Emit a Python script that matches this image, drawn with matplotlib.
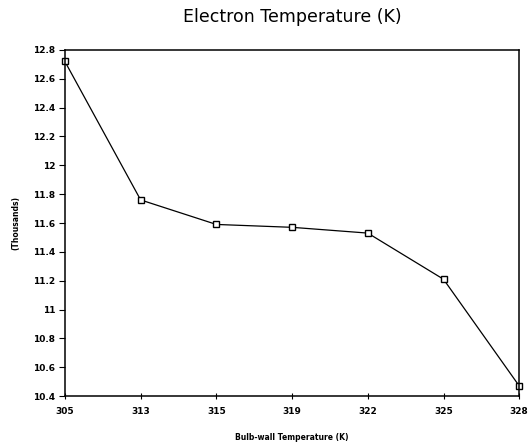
import matplotlib
matplotlib.use("Agg")
import matplotlib.pyplot as plt

categories = ["305", "313", "315", "319", "322", "325", "328"]
values = [12.72, 11.76, 11.59, 11.57, 11.53, 11.21, 10.47]
yticks = [10.4, 10.6, 10.8, 11.0, 11.2, 11.4, 11.6, 11.8, 12.0, 12.2, 12.4, 12.6, 12.8]
ytick_labels = ["10.4", "10.6", "10.8", "11", "11.2", "11.4", "11.6", "11.8", "12", "12.2", "12.4", "12.6", "12.8"]

fig = plt.figure(figsize=(5.32, 4.46), dpi=100)
ax = fig.add_axes([0.122, 0.112, 0.854, 0.776])

x = list(range(len(categories)))
ax.plot(x, values, color="black", linewidth=0.9, marker="s", markersize=4,
        markerfacecolor="white", markeredgecolor="black", markeredgewidth=1.0,
        clip_on=False)

ax.set_xlim(0, len(categories) - 1)
ax.set_ylim(10.4, 12.8)
ax.set_xticks(x)
ax.set_xticklabels(categories, fontsize=6.5, fontweight="bold")
ax.set_yticks(yticks)
ax.set_yticklabels(ytick_labels, fontsize=6.5, fontweight="bold")
ax.tick_params(axis="y", direction="out", length=4, width=0.8, pad=3)
ax.tick_params(axis="x", direction="inout", length=4, width=0.8, pad=6)
for s in ax.spines.values():
    s.set_linewidth(1.1)

ax.set_title("Electron Temperature (K)", fontsize=12.5, pad=20, color="black")
ax.set_xlabel("Bulb-wall Temperature (K)", fontsize=5.5, fontweight="bold", labelpad=12)
ax.set_ylabel("(Thousands)", fontsize=5.5, fontweight="bold", labelpad=9)

fig.savefig("out.png", dpi=100)
